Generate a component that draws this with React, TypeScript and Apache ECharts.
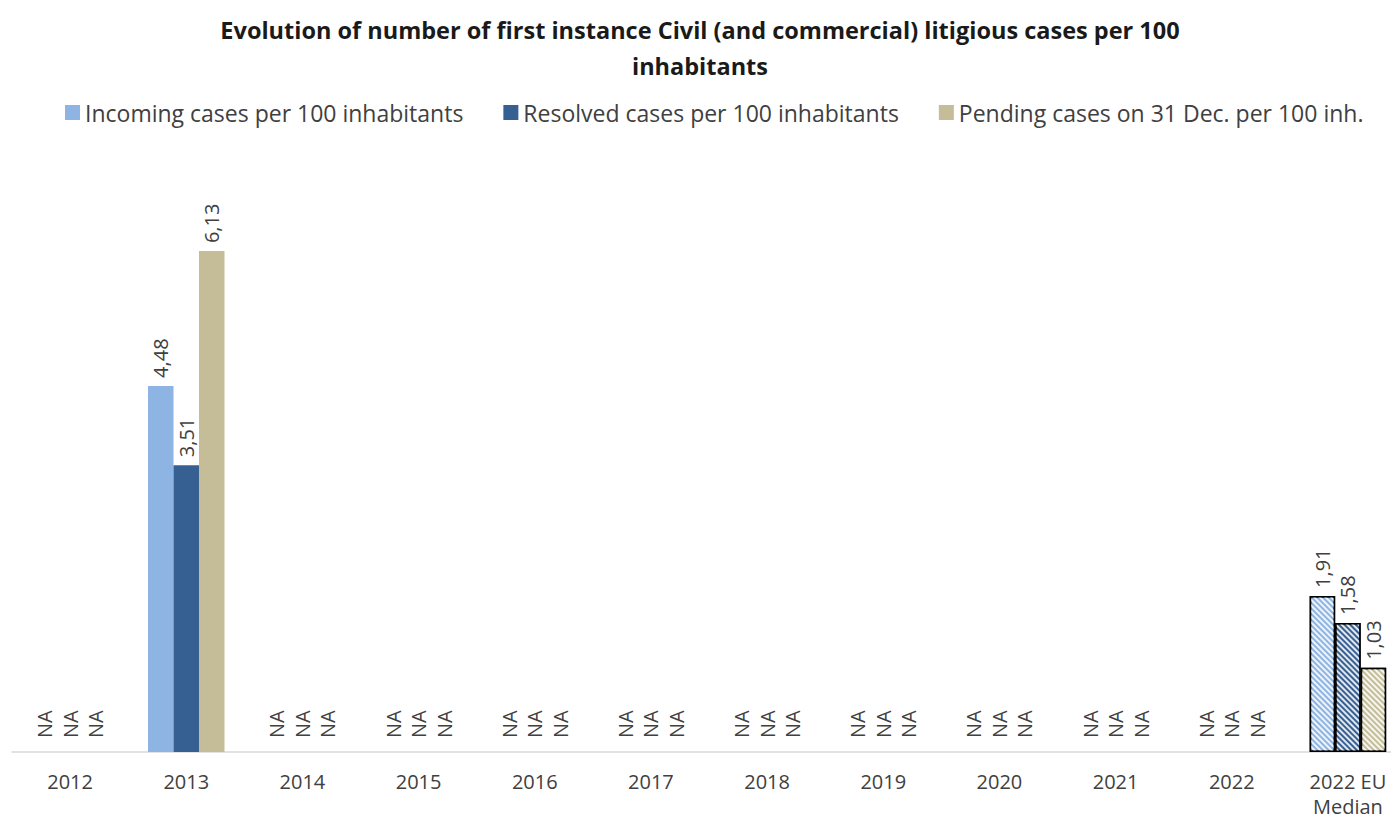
import React, { useEffect, useRef } from "react";
import * as echarts from "echarts";

const categories = ["2012", "2013", "2014", "2015", "2016", "2017", "2018", "2019", "2020", "2021", "2022", "2022 EU\nMedian"];
const incoming: (number | null)[] = [null, 4.48, null, null, null, null, null, null, null, null, null, 1.91];
const resolved: (number | null)[] = [null, 3.51, null, null, null, null, null, null, null, null, null, 1.58];
const pending: (number | null)[] = [null, 6.13, null, null, null, null, null, null, null, null, null, 1.03];
const seriesNames = ["Incoming cases per 100 inhabitants", "Resolved cases per 100 inhabitants", "Pending cases on 31 Dec. per 100 inh."];
const colors = ["#8EB4E3", "#376092", "#C4BD97"];
const FONT = "'Open Sans', sans-serif";

function buildSeries(vals: (number | null)[], idx: number) {
  const last = vals.length - 1;
  return {
    name: seriesNames[idx],
    type: "bar",
    barWidth: 25.5,
    barGap: "0%",
    itemStyle: { color: colors[idx] },
    label: {
      show: true,
      position: "top",
      rotate: 90,
      align: "left",
      verticalAlign: "middle",
      distance: 8,
      fontSize: 20,
      fontFamily: FONT,
      color: "#404040",
      formatter: (p: any) => (vals[p.dataIndex] == null ? "NA" : String(vals[p.dataIndex]!.toFixed(2)).replace(".", ",")),
    },
    data: vals.map((v, i) => {
      if (v == null) return { value: 0, label: { distance: 14 } };
      if (i === last) {
        return {
          value: v,
          itemStyle: {
            color: colors[idx],
            borderColor: "#000",
            borderWidth: 1.5,
            decal: {
              symbol: "rect",
              symbolSize: 1,
              dashArrayX: [1, 0],
              dashArrayY: [1.5, 2],
              rotation: Math.PI / 4,
              color: "rgba(255,255,255,0.85)",
            },
          },
        };
      }
      return { value: v };
    }),
  };
}

export default function App() {
  const ref = useRef<HTMLDivElement>(null);
  useEffect(() => {
    const chart = echarts.init(ref.current!, null, { renderer: "svg" });
    chart.setOption({
      animation: false,
      backgroundColor: "#fff",
      title: {
        text: "Evolution of number of first instance Civil (and commercial) litigious cases per 100\ninhabitants",
        left: 695,
        textAlign: "center",
        top: 7,
        textStyle: { fontSize: 23.5, fontWeight: "bold", fontFamily: FONT, color: "#1a1a1a", lineHeight: 36 },
      },
      legend: {
        top: 96,
        left: 60,
        itemWidth: 15,
        itemHeight: 15,
        itemGap: 40,
        icon: "rect",
        textStyle: { fontSize: 23, fontFamily: FONT, color: "#404040" },
        data: seriesNames,
      },
      grid: { left: 12, top: 180, width: 1394, height: 572, containLabel: false },
      xAxis: {
        type: "category",
        data: categories,
        axisLine: { lineStyle: { color: "#D9D9D9", width: 1.5 } },
        axisTick: { show: false },
        axisLabel: { fontSize: 20, fontFamily: FONT, color: "#404040", margin: 17, lineHeight: 25, interval: 0 },
      },
      yAxis: { type: "value", min: 0, max: 7, show: false, splitLine: { show: false } },
      series: [buildSeries(incoming, 0), buildSeries(resolved, 1), buildSeries(pending, 2)],
    });
    return () => chart.dispose();
  }, []);
  return <div ref={ref} style={{ position: "fixed", left: 0, top: 0, width: 1420, height: 824 }} />;
}
